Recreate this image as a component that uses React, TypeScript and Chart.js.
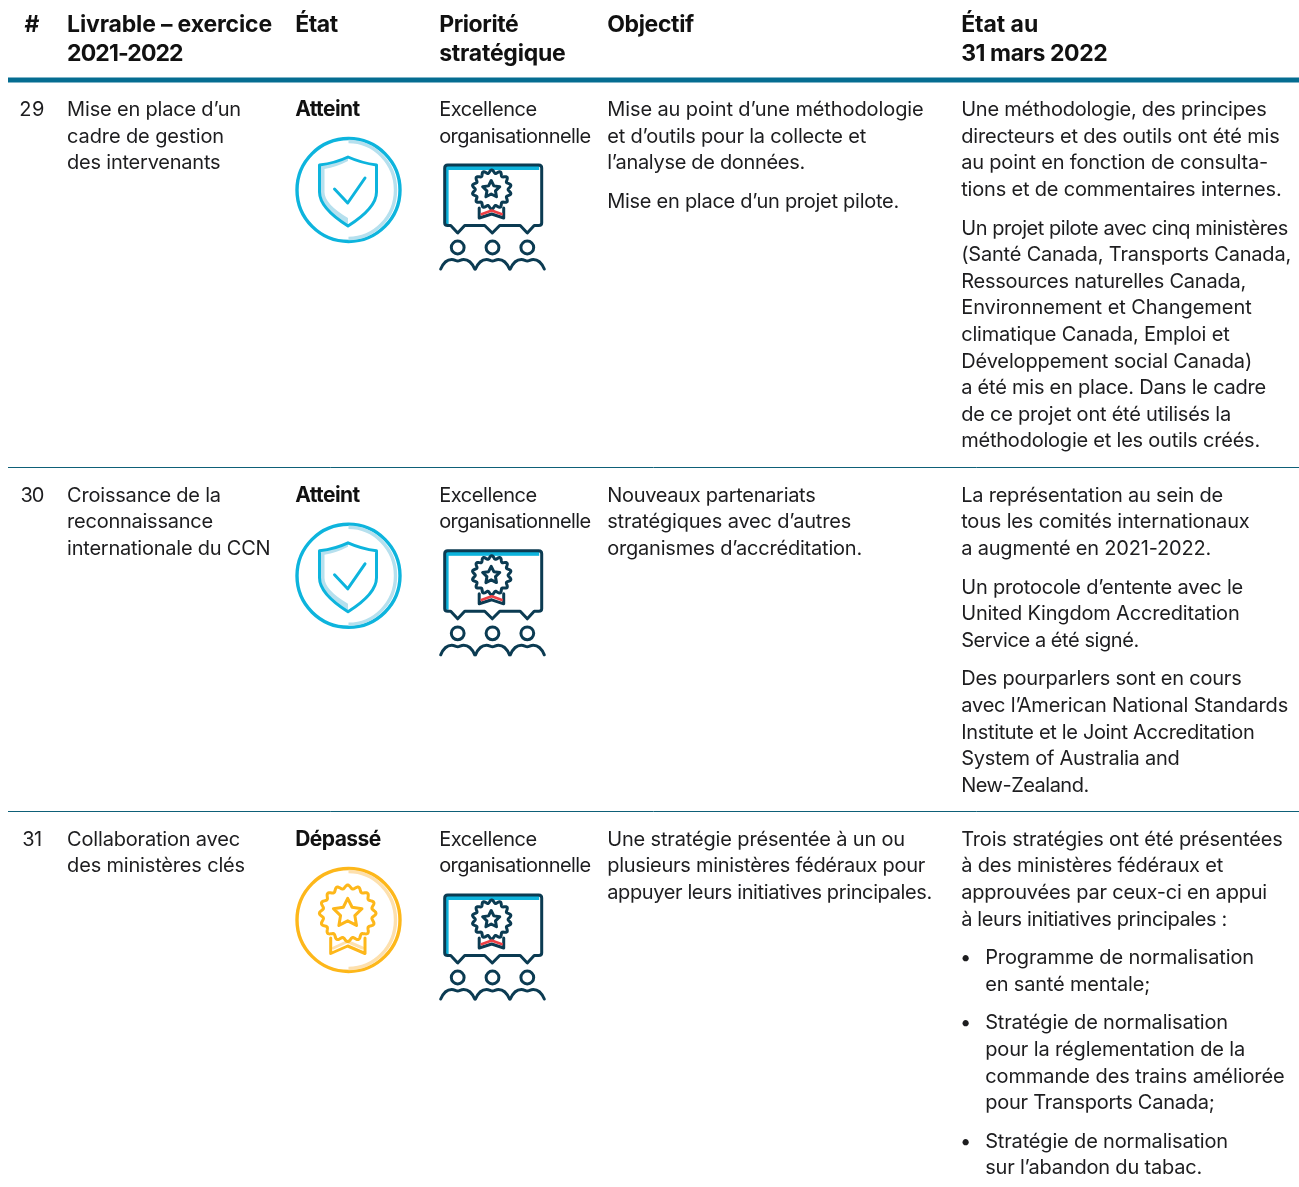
import React, { useEffect, useRef } from "react";
import { Chart, registerables } from "chart.js";

Chart.register(...registerables);

const headerCells = [["#"], ["Livrable – exercice", "2021-2022"], ["État"], ["Priorité", "stratégique"], ["Objectif"], ["État au", "31 mars 2022"]];
const rowNumbers = ["29", "30", "31"];
const deliverables = [
  ["Mise en place d’un", "cadre de gestion", "des intervenants"],
  ["Croissance de la", "reconnaissance", "internationale du CCN"],
  ["Collaboration avec", "des ministères clés"],
];
const statuses = ["Atteint", "Atteint", "Dépassé"];
const priorities = [
  ["Excellence", "organisationnelle"],
  ["Excellence", "organisationnelle"],
  ["Excellence", "organisationnelle"],
];
const objectives = [
  [["Mise au point d’une méthodologie", "et d’outils pour la collecte et", "l’analyse de données."], ["Mise en place d’un projet pilote."]],
  [["Nouveaux partenariats", "stratégiques avec d’autres", "organismes d’accréditation."]],
  [["Une stratégie présentée à un ou", "plusieurs ministères fédéraux pour", "appuyer leurs initiatives principales."]],
];
const outcomes = [
  [
    ["Une méthodologie, des principes", "directeurs et des outils ont été mis", "au point en fonction de consulta-", "tions et de commentaires internes."],
    ["Un projet pilote avec cinq ministères", "(Santé Canada, Transports Canada,", "Ressources naturelles Canada,", "Environnement et Changement", "climatique Canada, Emploi et", "Développement social Canada)", "a été mis en place. Dans le cadre", "de ce projet ont été utilisés la", "méthodologie et les outils créés."],
  ],
  [
    ["La représentation au sein de", "tous les comités internationaux", "a augmenté en 2021-2022."],
    ["Un protocole d’entente avec le", "United Kingdom Accreditation", "Service a été signé."],
    ["Des pourparlers sont en cours", "avec l’American National Standards", "Institute et le Joint Accreditation", "System of Australia and", "New-Zealand."],
  ],
  [["Trois stratégies ont été présentées", "à des ministères fédéraux et", "approuvées par ceux-ci en appui", "à leurs initiatives principales :"]],
];
const outcomeBullets = [
  [],
  [],
  [
    ["Programme de normalisation", "en santé mentale;"],
    ["Stratégie de normalisation", "pour la réglementation de la", "commande des trains améliorée", "pour Transports Canada;"],
    ["Stratégie de normalisation", "sur l’abandon du tabac."],
  ],
];

// Run length of each line in the reference, used to set its tracking.
const lineLengths: Record<string, number> = {
  "Livrable – exercice": 205, "2021-2022": 116.5, "État": 43, "Priorité": 79.5, "stratégique": 126.5, "Objectif": 87, "État au": 77, "31 mars 2022": 146.5,
  "29": 25, "30": 24, "31": 20, "Atteint": 65, "Dépassé": 86,
  "Mise en place d’un": 174, "cadre de gestion": 157, "des intervenants": 153.5,
  "Croissance de la": 154, "reconnaissance": 146, "internationale du CCN": 203.5, "Collaboration avec": 173, "des ministères clés": 178,
  "Excellence": 98, "organisationnelle": 152,
  "Mise au point d’une méthodologie": 316.5, "et d’outils pour la collecte et": 259, "l’analyse de données.": 198, "Mise en place d’un projet pilote.": 292,
  "Nouveaux partenariats": 208.5, "stratégiques avec d’autres": 244, "organismes d’accréditation.": 255,
  "Une stratégie présentée à un ou": 298, "plusieurs ministères fédéraux pour": 318, "appuyer leurs initiatives principales.": 325,
  "Une méthodologie, des principes": 305.5, "directeurs et des outils ont été mis": 318.5, "au point en fonction de consulta-": 307, "tions et de commentaires internes.": 320.5,
  "Un projet pilote avec cinq ministères": 327, "(Santé Canada, Transports Canada,": 330, "Ressources naturelles Canada,": 285, "Environnement et Changement": 290.5, "climatique Canada, Emploi et": 268.5, "Développement social Canada)": 291, "a été mis en place. Dans le cadre": 305, "de ce projet ont été utilisés la": 270, "méthodologie et les outils créés.": 299,
  "La représentation au sein de": 262, "tous les comités internationaux": 288.5, "a augmenté en 2021-2022.": 250, "Un protocole d’entente avec le": 282, "United Kingdom Accreditation": 278.5, "Service a été signé.": 178, "Des pourparlers sont en cours": 280.5, "avec l’American National Standards": 327, "Institute et le Joint Accreditation": 293.5, "System of Australia and": 218.5, "New-Zealand.": 128,
  "Trois stratégies ont été présentées": 321.5, "à des ministères fédéraux et": 262, "approuvées par ceux-ci en appui": 306, "à leurs initiatives principales :": 266,
  "Programme de normalisation": 269, "en santé mentale;": 165, "Stratégie de normalisation": 243, "pour la réglementation de la": 260, "commande des trains améliorée": 299.5, "pour Transports Canada;": 229.5, "sur l’abandon du tabac.": 217,
};

const W = 1299;
const H = 1187;
const COLS = { num: 32, deliv: 67.1, status: 295.2, prio: 439.2, obj: 607.2, out: 961.2, bulletText: 985.2, bulletMark: 960 };
const ROW_BASE = [116.2, 501.8, 845.8];
const ICON_CENTRE = [190, 575.8, 920];
const RULE_Y = [467.5, 811.5];
const LINE = 26.6;
const GAP = 12;
const INK = "#1d1d1f";
const DARK = "#0b3b52";
const CYAN = "#0db4dd";
const CYAN_L = "#b6e0ee";
const GOLD = "#fdb71a";
const GOLD_L = "#fde0ae";
const RED = "#ee4045";
const FONT = '"Inter", sans-serif';

function scallop(ctx: CanvasRenderingContext2D, cx: number, cy: number, R: number, a: number, n: number) {
  ctx.beginPath();
  for (let k = 0; k <= 180; k++) {
    const t = (k / 180) * Math.PI * 2;
    const r = R + a * Math.cos(n * t);
    const x = cx + r * Math.sin(t);
    const y = cy - r * Math.cos(t);
    if (k === 0) ctx.moveTo(x, y);
    else ctx.lineTo(x, y);
  }
  ctx.closePath();
  ctx.stroke();
}

function star(ctx: CanvasRenderingContext2D, cx: number, cy: number, R: number) {
  ctx.beginPath();
  for (let k = 0; k < 10; k++) {
    const r = k % 2 === 0 ? R : R * 0.5;
    const t = (k / 10) * Math.PI * 2;
    const x = cx + r * Math.sin(t);
    const y = cy - r * Math.cos(t);
    if (k === 0) ctx.moveTo(x, y);
    else ctx.lineTo(x, y);
  }
  ctx.closePath();
  ctx.stroke();
}

function poly(ctx: CanvasRenderingContext2D, pts: number[][]) {
  ctx.beginPath();
  pts.forEach((p, i) => (i === 0 ? ctx.moveTo(p[0], p[1]) : ctx.lineTo(p[0], p[1])));
  ctx.stroke();
}

function ringAccent(ctx: CanvasRenderingContext2D, cx: number, cy: number, col: string) {
  ctx.strokeStyle = col;
  ctx.lineWidth = 3.4;
  ctx.lineCap = "butt";
  ctx.beginPath();
  ctx.ellipse(cx, cy, 47, 48.5, 0, -Math.PI / 2, Math.PI / 2);
  ctx.stroke();
}

function shieldIcon(ctx: CanvasRenderingContext2D, cx: number, cy: number) {
  ringAccent(ctx, cx, cy, CYAN_L);
  ctx.lineJoin = "round";
  ctx.lineCap = "round";
  ctx.fillStyle = CYAN_L;
  ctx.beginPath();
  ctx.moveTo(cx - 28, cy - 25);
  ctx.quadraticCurveTo(cx - 12, cy - 27, cx - 0.5, cy - 33);
  ctx.lineTo(cx - 0.5, cy - 29);
  ctx.quadraticCurveTo(cx - 12, cy - 23, cx - 24, cy - 21);
  ctx.lineTo(cx - 24, cy + 2);
  ctx.quadraticCurveTo(cx - 24, cy + 14, cx - 0.5, cy + 28);
  ctx.lineTo(cx - 0.5, cy + 36);
  ctx.quadraticCurveTo(cx - 28, cy + 18, cx - 28, cy + 2);
  ctx.closePath();
  ctx.fill();
  ctx.strokeStyle = CYAN;
  ctx.lineWidth = 3;
  ctx.beginPath();
  ctx.moveTo(cx - 0.5, cy - 33);
  ctx.quadraticCurveTo(cx + 13, cy - 27, cx + 28, cy - 25);
  ctx.lineTo(cx + 28, cy + 2);
  ctx.quadraticCurveTo(cx + 28, cy + 18, cx - 0.5, cy + 36);
  ctx.quadraticCurveTo(cx - 29, cy + 18, cx - 29, cy + 2);
  ctx.lineTo(cx - 29, cy - 25);
  ctx.quadraticCurveTo(cx - 13, cy - 27, cx - 0.5, cy - 33);
  ctx.closePath();
  ctx.stroke();
  poly(ctx, [[cx - 14, cy - 1], [cx - 0.8, cy + 13], [cx + 16.5, cy - 12]]);
}

function medalIcon(ctx: CanvasRenderingContext2D, cx: number, cy: number) {
  ringAccent(ctx, cx, cy, GOLD_L);
  ctx.lineJoin = "round";
  ctx.lineCap = "round";
  ctx.strokeStyle = GOLD_L;
  ctx.lineWidth = 3;
  poly(ctx, [[cx - 15, cy + 28], [cx - 1, cy + 21.5], [cx + 14, cy + 28]]);
  ctx.strokeStyle = GOLD;
  ctx.lineWidth = 3;
  scallop(ctx, cx - 0.8, cy - 6.7, 26.5, 1.8, 16);
  star(ctx, cx - 0.8, cy - 6.7, 15);
  poly(ctx, [[cx - 17.8, cy + 18], [cx - 17.8, cy + 33.5], [cx - 0.8, cy + 26], [cx + 16.5, cy + 33.5], [cx + 16.5, cy + 18]]);
}

function priorityIcon(ctx: CanvasRenderingContext2D, cx: number, cy: number) {
  ctx.lineJoin = "round";
  ctx.lineCap = "round";
  ctx.fillStyle = CYAN;
  ctx.fillRect(cx - 46.5, cy - 24, 94, 4);
  ctx.fillRect(cx - 46.5, cy - 24, 3.4, 58);
  ctx.strokeStyle = DARK;
  ctx.lineWidth = 3;
  ctx.beginPath();
  ctx.moveTo(cx - 44, cy - 25);
  ctx.lineTo(cx + 47, cy - 25);
  ctx.quadraticCurveTo(cx + 50, cy - 25, cx + 50, cy - 22);
  ctx.lineTo(cx + 50, cy + 33);
  ctx.quadraticCurveTo(cx + 50, cy + 35.5, cx + 47, cy + 35.5);
  ctx.lineTo(cx + 42.5, cy + 35.5);
  ctx.lineTo(cx + 35.6, cy + 43);
  ctx.lineTo(cx + 28.5, cy + 35.5);
  ctx.lineTo(cx + 8, cy + 35.5);
  ctx.lineTo(cx + 0.6, cy + 43);
  ctx.lineTo(cx - 7, cy + 35.5);
  ctx.lineTo(cx - 27, cy + 35.5);
  ctx.lineTo(cx - 34, cy + 43);
  ctx.lineTo(cx - 41, cy + 35.5);
  ctx.lineTo(cx - 44, cy + 35.5);
  ctx.quadraticCurveTo(cx - 47, cy + 35.5, cx - 47, cy + 33);
  ctx.lineTo(cx - 47, cy - 22);
  ctx.quadraticCurveTo(cx - 47, cy - 25, cx - 44, cy - 25);
  ctx.closePath();
  ctx.stroke();
  scallop(ctx, cx, cy - 0.5, 18, 1.6, 14);
  star(ctx, cx - 0.5, cy - 0.5, 9);
  poly(ctx, [[cx - 12.5, cy + 18], [cx - 12.5, cy + 28], [cx, cy + 24], [cx + 12, cy + 28], [cx + 12, cy + 18]]);
  ctx.strokeStyle = RED;
  ctx.lineWidth = 2.6;
  ctx.lineCap = "butt";
  poly(ctx, [[cx - 11, cy + 24.5], [cx, cy + 20.5], [cx + 11, cy + 24.5]]);
  ctx.lineCap = "round";
  ctx.strokeStyle = DARK;
  ctx.lineWidth = 3;
  [-34, 0.8, 35.6].forEach((dx) => {
    const x = cx + dx;
    ctx.beginPath();
    ctx.arc(x, cy + 57.5, 6.4, 0, Math.PI * 2);
    ctx.stroke();
    ctx.beginPath();
    ctx.moveTo(x - 17, cy + 79);
    ctx.bezierCurveTo(x - 14, cy + 72, x - 10, cy + 69.5, x - 6, cy + 69.5);
    ctx.bezierCurveTo(x - 3, cy + 69.5, x - 2, cy + 71, x, cy + 71);
    ctx.bezierCurveTo(x + 2, cy + 71, x + 3, cy + 69.5, x + 6, cy + 69.5);
    ctx.bezierCurveTo(x + 10, cy + 69.5, x + 14, cy + 72, x + 17, cy + 79);
    ctx.stroke();
  });
}

const tablePlugin = {
  id: "tableText",
  afterDatasetsDraw(chart: any) {
    const { ctx, scales } = chart;
    const px = (v: number) => scales.x.getPixelForValue(v);
    const py = (v: number) => scales.y.getPixelForValue(v);
    const text = (s: string, x: number, y: number, size: number, bold: boolean, align: CanvasTextAlign = "left") => {
      ctx.font = `${bold ? 700 : 400} ${size}px ${FONT}`;
      (ctx as any).letterSpacing = "0px";
      const target = lineLengths[s];
      const track = target && s.length > 1 ? (target - ctx.measureText(s).width) / (s.length - 1) : 0;
      (ctx as any).letterSpacing = `${track.toFixed(3)}px`;
      ctx.textAlign = align;
      ctx.textBaseline = "alphabetic";
      ctx.fillStyle = bold ? "#111" : INK;
      ctx.fillText(s, px(x), py(y));
    };
    ctx.save();
    const headX = [COLS.num, COLS.deliv, COLS.status, COLS.prio, COLS.obj, COLS.out];
    headerCells.forEach((lines, c) =>
      lines.forEach((l, i) => text(l, headX[c], 32 + i * 29, 23, true, c === 0 ? "center" : "left")),
    );
    const paragraphs = (paras: string[][], x: number, y0: number) => {
      let y = y0;
      paras.forEach((p) => {
        p.forEach((l) => {
          text(l, x, y, 20, false);
          y += LINE;
        });
        y += GAP;
      });
      return y;
    };
    rowNumbers.forEach((n, r) => {
      const y0 = ROW_BASE[r];
      text(n, COLS.num, y0, 20, false, "center");
      paragraphs([deliverables[r]], COLS.deliv, y0);
      text(statuses[r], COLS.status, y0, 21, true);
      paragraphs([priorities[r]], COLS.prio, y0);
      paragraphs(objectives[r], COLS.obj, y0);
      let y = paragraphs(outcomes[r], COLS.out, y0);
      outcomeBullets[r].forEach((b) => {
        text("•", COLS.bulletMark, y, 20, false);
        y = paragraphs([b], COLS.bulletText, y);
      });
      const cy = py(ICON_CENTRE[r]);
      const sx = px(348.5);
      if (statuses[r] === "Atteint") shieldIcon(ctx, sx, cy);
      else medalIcon(ctx, sx, cy);
      priorityIcon(ctx, px(491.7), cy);
    });
    ctx.restore();
  },
};

export default function App() {
  const ref = useRef<HTMLCanvasElement>(null);
  useEffect(() => {
    const ringColour = statuses.map((s) => (s === "Atteint" ? CYAN : GOLD));
    const chart = new Chart(ref.current!, {
      type: "scatter",
      data: {
        datasets: [
          {
            type: "line",
            data: [{ x: 8, y: 80 }, { x: W, y: 80 }],
            borderColor: "#046d91",
            borderWidth: 5,
            pointRadius: 0,
          },
          ...RULE_Y.map((y) => ({
            type: "line" as const,
            data: [{ x: 8, y }, { x: W, y }],
            borderColor: "#0e6078",
            borderWidth: 1,
            pointRadius: 0,
          })),
          {
            type: "scatter",
            data: rowNumbers.map((_, r) => ({ x: 348.5, y: ICON_CENTRE[r] })),
            pointRadius: 51.5,
            pointHoverRadius: 51.5,
            pointBorderWidth: 3.4,
            pointBorderColor: ringColour,
            pointBackgroundColor: "rgba(0,0,0,0)",
          },
        ],
      } as any,
      options: {
        animation: false,
        responsive: false,
        maintainAspectRatio: false,
        events: [],
        layout: { padding: 0, autoPadding: false },
        plugins: { legend: { display: false }, tooltip: { enabled: false }, title: { display: false } },
        scales: {
          x: { type: "linear", min: 0, max: W, display: false },
          y: { type: "linear", min: 0, max: H, reverse: true, display: false },
        },
      },
      plugins: [tablePlugin],
    });
    return () => chart.destroy();
  }, []);
  return (
    <div style={{ position: "absolute", left: 0, top: 0, width: W, height: H, background: "#fff" }}>
      <canvas ref={ref} width={W} height={H} style={{ display: "block" }} />
    </div>
  );
}
